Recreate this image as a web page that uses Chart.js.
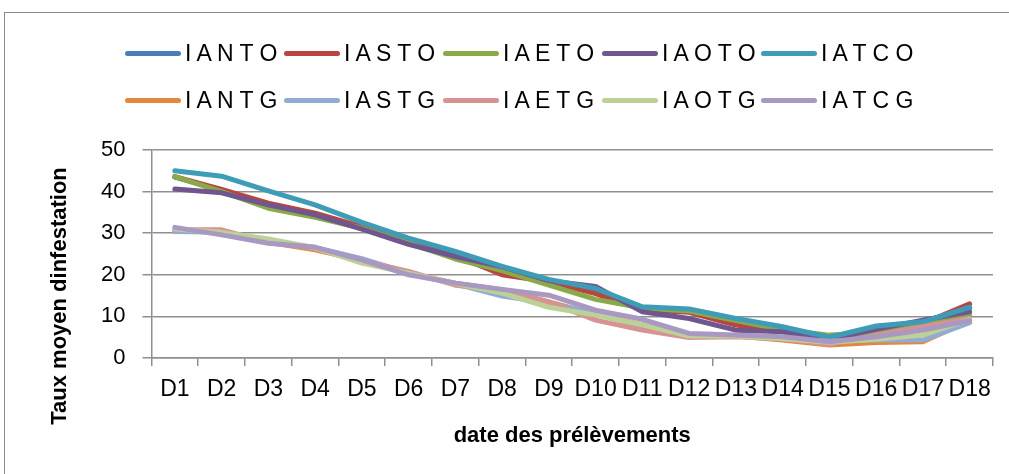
<!DOCTYPE html>
<html lang="fr">
<head>
    <meta charset="UTF-8">
    <title>Taux moyen d'infestation</title>
    <script src="https://cdn.jsdelivr.net/npm/chart.js"></script>
    <style>
        body { margin: 0; background: #fff; overflow: hidden; width: 1009px; height: 474px; position: relative; }
        .cadre { position: absolute; left: 4px; top: 12px; width: 1100px; height: 600px; border: 1px solid #8a8a8a; }
        canvas { position: absolute; left: 0; top: 0; }
        .legende { position: absolute; left: 125px; top: 30px; display: grid; grid-template-columns: repeat(5, 159px); grid-auto-rows: 47px; }
        .item { display: flex; align-items: center; font-family: "Liberation Sans", Arial, sans-serif; font-size: 23px; color: #000; white-space: nowrap; }
        .trait { display: inline-block; width: 56px; height: 5px; border-radius: 3px; margin-right: 4px; }
    </style>
</head>
<body>
    <div class="cadre"></div>
    <canvas id="lineChart" width="1009" height="474"></canvas>
    <div class="legende" id="legende"></div>

    <script>
        // Données
        const dates = ['D1', 'D2', 'D3', 'D4', 'D5', 'D6', 'D7', 'D8', 'D9', 'D10', 'D11', 'D12', 'D13', 'D14', 'D15', 'D16', 'D17', 'D18'];
        const noms = ['I A N T O', 'I A S T O', 'I A E T O', 'I A O T O', 'I A T C O', 'I A N T G', 'I A S T G', 'I A E T G', 'I A O T G', 'I A T C G'];
        const couleurs = ['#4A7EBB', '#B94541', '#8AAA4A', '#70568F', '#3E9CB6', '#E5873B', '#91ABD3', '#D69392', '#BCD198', '#A898C2'];

        const IANTO = [43.5, 40.3, 36.8, 34.4, 31.3, 27.8, 24.6, 21.3, 18.2, 15.8, 11.8, 11.2, 8.6, 6.6, 4.8, 6.6, 8.6, 12.0];
        const IASTO = [43.6, 40.5, 37.2, 34.8, 31.6, 27.9, 24.6, 20.0, 18.3, 15.5, 11.6, 11.0, 7.9, 6.3, 4.6, 6.3, 8.3, 13.0];
        const IAETO = [43.6, 40.0, 36.0, 33.8, 31.2, 27.6, 23.8, 21.0, 17.5, 14.1, 12.0, 11.3, 9.0, 6.8, 5.5, 6.0, 8.6, 10.3];
        const IAOTO = [40.6, 39.7, 36.8, 34.4, 31.0, 27.3, 24.4, 21.9, 18.6, 17.2, 11.1, 9.5, 6.7, 6.3, 4.5, 6.9, 9.1, 11.1];
        const IATCO = [45.0, 43.7, 40.2, 36.8, 32.6, 28.8, 25.6, 22.0, 18.9, 16.7, 12.3, 11.8, 9.5, 7.5, 5.0, 7.7, 8.7, 12.2];
        const IANTG = [30.6, 30.2, 27.8, 26.0, 23.4, 20.4, 18.0, 16.4, 13.5, 10.5, 8.0, 5.3, 5.3, 4.3, 3.1, 3.7, 3.9, 9.0];
        const IASTG = [30.4, 30.2, 27.8, 26.6, 23.9, 20.4, 17.8, 14.9, 13.2, 10.8, 7.5, 5.3, 5.4, 4.6, 4.0, 4.3, 4.3, 8.5];
        const IAETG = [30.8, 30.8, 27.8, 26.3, 23.4, 20.8, 17.5, 16.3, 13.5, 9.1, 6.7, 4.9, 5.1, 4.6, 3.3, 5.5, 7.5, 9.5];
        const IAOTG = [31.0, 30.2, 28.6, 26.5, 22.8, 20.4, 17.9, 15.6, 12.2, 10.3, 8.0, 5.3, 5.3, 4.6, 3.8, 4.5, 5.5, 9.3];
        const IATCG = [31.4, 29.6, 27.6, 26.6, 23.6, 20.0, 18.0, 16.5, 15.1, 11.5, 9.3, 5.9, 5.5, 5.1, 3.9, 5.1, 6.7, 9.0];

        const series = [IANTO, IASTO, IAETO, IAOTO, IATCO, IANTG, IASTG, IAETG, IAOTG, IATCG];

        const titreX = 'date des prélèvements';
        const titreY = 'Taux moyen dinfestation';

        // Légende (HTML)
        const legende = document.getElementById('legende');
        noms.forEach(function (nom, i) {
            const item = document.createElement('div');
            item.className = 'item';
            item.innerHTML = '<span class="trait" style="background:' + couleurs[i] + '"></span>' + nom;
            legende.appendChild(item);
        });

        // Titre de l'axe Y (décalé comme dans Excel)
        const titreAxeY = {
            id: 'titreAxeY',
            afterDraw(chart) {
                const ctx = chart.ctx;
                ctx.save();
                ctx.translate(60, 296);
                ctx.rotate(-Math.PI / 2);
                ctx.font = 'bold 22px "Liberation Sans", Arial, sans-serif';
                ctx.fillStyle = '#000';
                ctx.textAlign = 'center';
                ctx.textBaseline = 'middle';
                ctx.fillText(titreY, 0, 0);
                ctx.restore();
            }
        };

        const police = { family: '"Liberation Sans", Arial, sans-serif', size: 23 };

        const ctx1 = document.getElementById('lineChart').getContext('2d');
        new Chart(ctx1, {
            type: 'line',
            data: {
                labels: dates,
                datasets: series.map(function (valeurs, i) {
                    return {
                        label: noms[i],
                        data: valeurs,
                        borderColor: couleurs[i],
                        backgroundColor: couleurs[i],
                        borderWidth: 5,
                        borderCapStyle: 'round',
                        borderJoinStyle: 'round',
                        pointRadius: 0,
                        tension: 0,
                        fill: false,
                        order: series.length - i
                    };
                })
            },
            options: {
                responsive: false,
                animation: false,
                layout: { padding: { top: 150, left: 84, right: 16, bottom: 25 } },
                plugins: {
                    legend: { display: false },
                    tooltip: { enabled: false }
                },
                scales: {
                    x: {
                        offset: true,
                        grid: { offset: true, drawOnChartArea: false, tickLength: 8, color: '#8f8f8f', lineWidth: 1.5 },
                        border: { color: '#8f8f8f', width: 1.5 },
                        ticks: { color: '#000', font: police, padding: 10, maxRotation: 0, autoSkip: false },
                        title: {
                            display: true,
                            text: titreX,
                            color: '#000',
                            font: { family: police.family, size: 22, weight: 'bold' },
                            padding: { top: 9, bottom: 0 }
                        }
                    },
                    y: {
                        min: 0,
                        max: 50,
                        grid: { tickLength: 9, color: '#8f8f8f', lineWidth: 1.5 },
                        border: { color: '#8f8f8f', width: 1.5 },
                        ticks: { stepSize: 10, color: '#000', font: { family: police.family, size: 22 }, padding: 17 }
                    }
                }
            },
            plugins: [titreAxeY]
        });
    </script>
</body>
</html>
